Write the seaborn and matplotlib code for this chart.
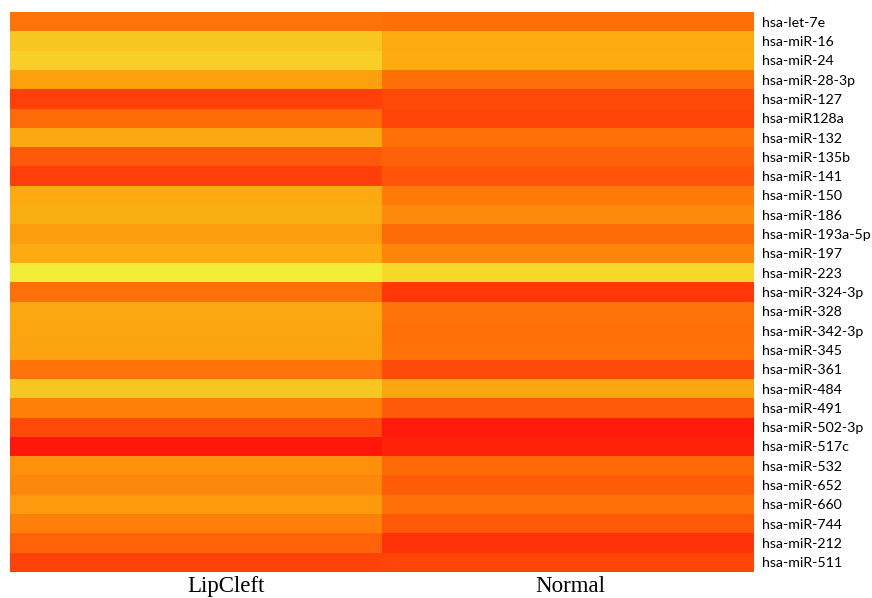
# plot.py
# Heatmap of miRNA expression, LipCleft vs Normal samples.

import numpy as np
import pandas as pd
import matplotlib
matplotlib.use("Agg")
import matplotlib.pyplot as plt
import seaborn as sns
from matplotlib.colors import LinearSegmentedColormap

# --- Data (relative expression) ---
mirnas = [
    "hsa-let-7e", "hsa-miR-16", "hsa-miR-24", "hsa-miR-28-3p", "hsa-miR-127",
    "hsa-miR128a", "hsa-miR-132", "hsa-miR-135b", "hsa-miR-141", "hsa-miR-150",
    "hsa-miR-186", "hsa-miR-193a-5p", "hsa-miR-197", "hsa-miR-223", "hsa-miR-324-3p",
    "hsa-miR-328", "hsa-miR-342-3p", "hsa-miR-345", "hsa-miR-361", "hsa-miR-484",
    "hsa-miR-491", "hsa-miR-502-3p", "hsa-miR-517c", "hsa-miR-532", "hsa-miR-652",
    "hsa-miR-660", "hsa-miR-744", "hsa-miR-212", "hsa-miR-511",
]
groups = ["LipCleft", "Normal"]

lipcleft = [114, 198, 208, 160, 58, 106, 168, 85, 56, 170,
            174, 158, 172, 245, 112, 168, 166, 164, 114, 198,
            128, 68, 12, 144, 136, 154, 128, 96, 60]
normal = [110, 170, 172, 110, 68, 62, 112, 94, 80, 122,
          138, 106, 132, 220, 48, 116, 112, 114, 70, 166,
          85, 16, 24, 104, 88, 112, 84, 42, 64]

df = pd.DataFrame({"LipCleft": lipcleft, "Normal": normal}, index=mirnas)

# red -> orange -> yellow scale
cmap = LinearSegmentedColormap.from_list("heat", [
    (0.0, "#ff0c0a"),
    (120 / 255, "#ff7808"),
    (170 / 255, "#fcaa10"),
    (200 / 255, "#f8c822"),
    (1.0, "#f2f53c"),
])

fig = plt.figure(figsize=(8.72, 5.98), dpi=100)
ax = fig.add_axes([10 / 872, 26 / 598, 744 / 872, 560 / 598])

sns.heatmap(df, cmap=cmap, vmin=0, vmax=255, cbar=False, ax=ax)

ax.yaxis.tick_right()
ax.set_yticks(np.arange(len(mirnas)) + 0.5)
ax.set_yticklabels(mirnas, rotation=0, fontsize=10.2, family=["Lato", "DejaVu Sans"])
# the LipCleft label sits a little right of its column centre in the original
ax.set_xticks([0.58, 1.505])
ax.set_xticklabels(groups, fontsize=16.5, family=["Liberation Serif", "DejaVu Serif"])
ax.tick_params(axis="both", length=0)
ax.tick_params(axis="y", pad=6)
ax.tick_params(axis="x", pad=3)
ax.set_xlabel("")
ax.set_ylabel("")

fig.savefig("out.png", dpi=100)
